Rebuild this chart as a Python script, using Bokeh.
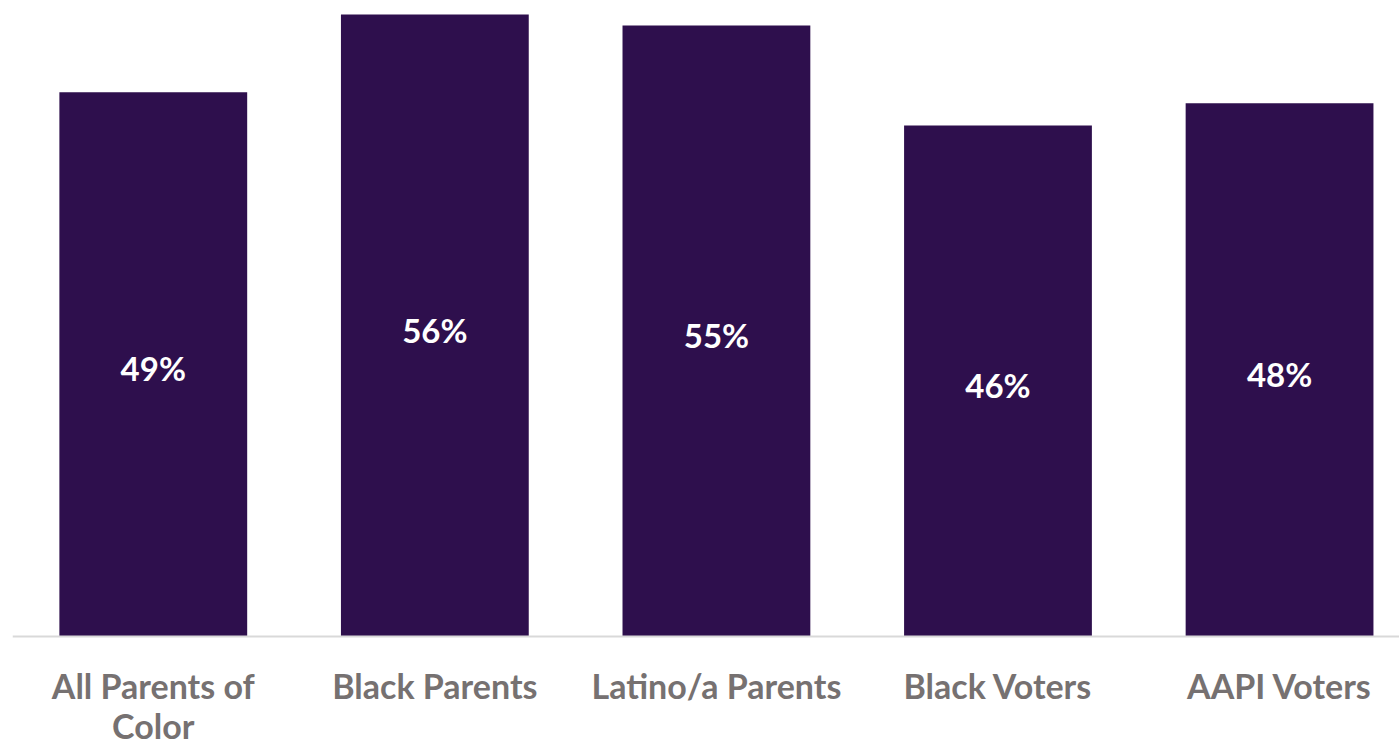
from bokeh.plotting import figure
from bokeh.models import Range1d, Span, ColumnDataSource
from bokeh.core.properties import value
from bokeh.embed import file_html
from bokeh.resources import INLINE

categories = ["All Parents of\nColor", "Black Parents", "Latino/a Parents", "Black Voters", "AAPI Voters"]
values = [49, 56, 55, 46, 48]
value_labels = ["49%", "56%", "55%", "46%", "48%"]

xs = list(range(len(categories)))
src = ColumnDataSource(dict(
    x=xs, top=values, mid=[v / 2 for v in values], lab=value_labels,
    cat=categories, zero=[0] * len(values),
))

p = figure(width=1399, height=745, output_backend="svg", toolbar_location=None,
           x_range=Range1d(-0.5, 4.426), y_range=Range1d(-9.81, 57.26),
           min_border_left=12, min_border_right=0, min_border_top=0, min_border_bottom=0)
p.xaxis.visible = False
p.yaxis.visible = False
p.xgrid.visible = False
p.ygrid.visible = False
p.outline_line_color = None
p.background_fill_color = "white"
p.border_fill_color = "white"

p.vbar(x="x", top="top", bottom=0, width=0.667, source=src, fill_color="#2E0F4D", line_color=None)
p.add_layout(Span(location=0, dimension="width", line_color="#D9D9D9", line_width=2))

p.text(x="x", y="mid", text="lab", source=src, text_color="white",
       text_font=value("Lato"), text_font_style="bold", text_font_size="33px",
       text_align="center", text_baseline="middle", y_offset=4)

p.text(x="x", y="zero", text="cat", source=src, text_color="#767171",
       text_font=value("Lato"), text_font_style="bold", text_font_size="34px",
       text_align="center", text_baseline="top", y_offset=28, text_line_height=0.98)

open("out.html", "w").write(file_html(p, INLINE))
